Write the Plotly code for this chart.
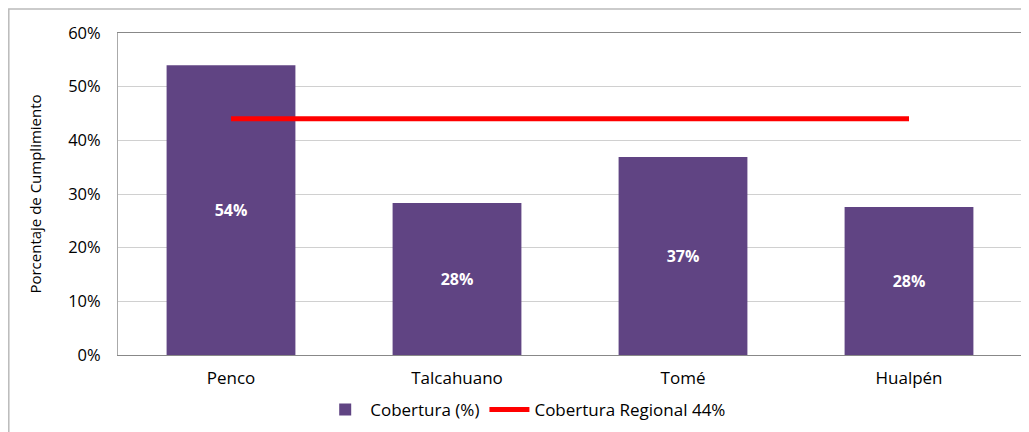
import plotly.graph_objects as go

categorias = ["Penco", "Talcahuano", "Tomé", "Hualpén"]
cobertura = [0.540, 0.283, 0.369, 0.276]
regional = [0.44, 0.44, 0.44, 0.44]
y_ticks = [0, 0.1, 0.2, 0.3, 0.4, 0.5, 0.6]

FONT = "Open Sans"

fig = go.Figure()
fig.add_trace(go.Bar(
    x=categorias, y=cobertura, name="Cobertura (%)",
    marker=dict(color="#604483", line=dict(width=0)),
    texttemplate="%{y:.0%}", textposition="inside", insidetextanchor="middle",
    textfont=dict(family=FONT, size=16, color="white", weight="bold"),
))
fig.add_trace(go.Scatter(
    x=categorias, y=regional, name="Cobertura Regional 44%",
    mode="lines", line=dict(color="#FF0000", width=5),
))

# page has an 8px body margin: figure covers page x 8..1029, y 8..432
W, H = 1021, 424
L, R, T, B = 110, 7, 25, 77
pw, ph = W - L - R, H - T - B

fig.update_layout(
    width=W, height=H,
    margin=dict(l=L, r=R, t=T, b=B, autoexpand=False),
    paper_bgcolor="white", plot_bgcolor="white",
    bargap=0.43,
    font=dict(family=FONT, size=16, color="#000000"),
    showlegend=True,
    legend=dict(orientation="h", x=0.451, xanchor="center", y=-0.171, yanchor="middle",
                font=dict(family=FONT, size=17), tracegroupgap=0, itemwidth=40),
    xaxis=dict(showgrid=False, showline=True, linecolor="#888888", linewidth=1,
               mirror=True, ticks="", tickfont=dict(size=17), automargin=False,
               ticklabelstandoff=8),
    yaxis=dict(range=[0, 0.6], tickvals=y_ticks, tickformat=".0%",
               showgrid=True, gridcolor="#D0D0D0", gridwidth=1,
               showline=True, linecolor="#AAAAAA", linewidth=1, mirror=True,
               ticks="", ticklen=0, zeroline=False, automargin=False,
               ticklabelstandoff=13,
               title=dict(text="Porcentaje de Cumplimiento", font=dict(size=15), standoff=22),
               tickfont=dict(size=16.5)),
    shapes=[dict(type="rect", xref="paper", yref="paper",
                 x0=(0.8 - L) / pw, x1=(W + 10 - L) / pw,
                 y0=(T + ph - (H + 10)) / ph, y1=1 + (T - 1) / ph,
                 line=dict(color="#BBBBBB", width=1.5), layer="below")],
)

fig.write_html("out.html")
